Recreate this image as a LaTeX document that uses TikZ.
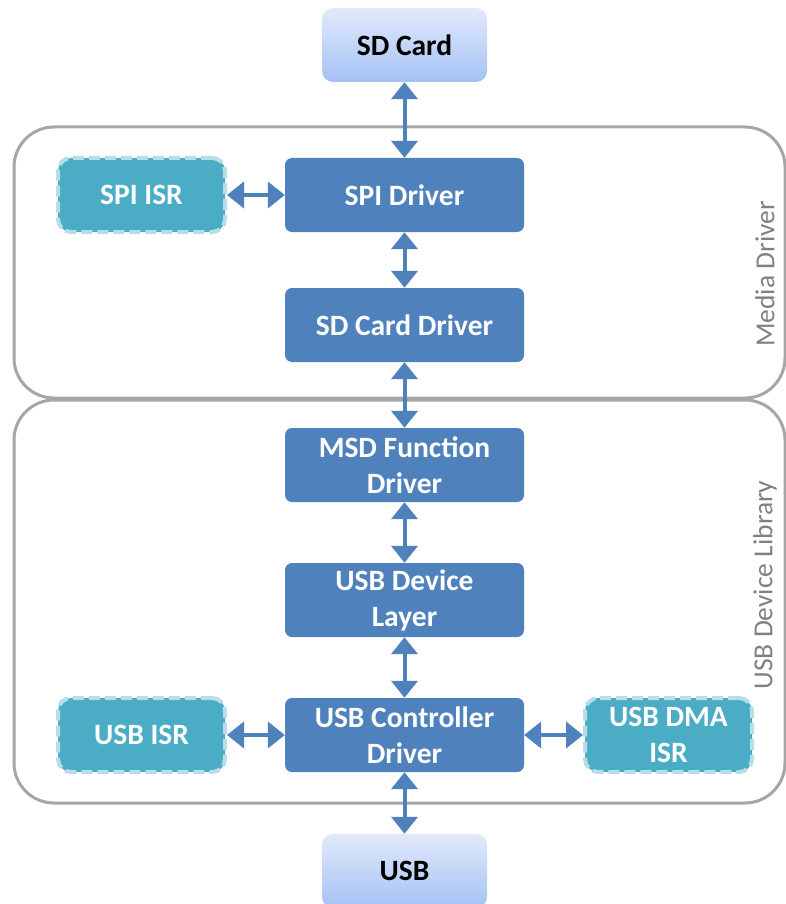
\documentclass[tikz,border=0pt]{standalone}
\usepackage{fontspec}
\setmainfont{Carlito}
\usetikzlibrary{arrows.meta}
\definecolor{blkblue}{HTML}{4F81BD}
\definecolor{isrteal}{HTML}{4BACC6}
\definecolor{isrrim}{HTML}{B7DEE8}
\definecolor{exttop}{HTML}{E1EAFB}
\definecolor{extbot}{HTML}{A4C1F5}
\definecolor{grpgray}{HTML}{A6A6A6}
\definecolor{namegray}{HTML}{808080}
\tikzset{
  blk/.style={fill=blkblue, rounded corners=7pt, minimum width=239pt, minimum height=74pt,
    text=white, align=center, font=\bfseries\fontsize{29.5}{36}\selectfont},
  isr/.style={fill=isrteal, draw=isrrim, line width=4pt, dash pattern=on 11pt off 5pt,
    rounded corners=13pt, minimum width=167pt, minimum height=74pt,
    text=white, align=center, font=\bfseries\fontsize{29.5}{36}\selectfont},
  ext/.style={top color=exttop, bottom color=extbot, rounded corners=11pt,
    minimum width=165pt, minimum height=74pt, font=\bfseries\fontsize{29.5}{36}\selectfont},
  lnk/.style={{Triangle[width=26pt,length=17pt]}-{Triangle[width=26pt,length=17pt]},
    line width=4pt, draw=blkblue},
  grp/.style={draw=grpgray, line width=3pt, rounded corners=40pt},
  grpname/.style={rotate=90, text=namegray, font=\fontsize{27.5}{30}\selectfont}
}

\begin{document}
\begin{tikzpicture}[x=1pt,y=-1pt]
\useasboundingbox (0,0) rectangle (786,904);
% groups
\draw[grp] (14,127) rectangle (785,398);
\draw[grp] (14,400) rectangle (785,803);
\node[grpname] (medianame) at (765,274) {Media Driver};
\node[grpname] (usblibname) at (765,585) {USB Device Library};
% blocks
\node[ext] (sdcard) at (404.5,45) {SD Card};
\node[blk] (spidrv) at (404.5,195) {SPI Driver};
\node[isr] (spiisr) at (141.5,195) {SPI ISR};
\node[blk] (sddrv) at (404.5,325) {SD Card Driver};
\node[blk] (msd) at (404.5,465) {MSD Function\\Driver};
\node[blk] (devlayer) at (404.5,600) {USB Device\\Layer};
\node[blk] (ctrl) at (404.5,735) {USB Controller\\Driver};
\node[isr] (usbisr) at (141.5,735) {USB ISR};
\node[isr] (dmaisr) at (668.5,735) {USB DMA\\ISR};
\node[ext] (usb) at (404.5,871) {USB};
% links
\draw[lnk] (sdcard.south) -- (spidrv.north);
\draw[lnk] (spiisr.east) -- (spidrv.west);
\draw[lnk] (spidrv.south) -- (sddrv.north);
\draw[lnk] (sddrv.south) -- (msd.north);
\draw[lnk] (msd.south) -- (devlayer.north);
\draw[lnk] (devlayer.south) -- (ctrl.north);
\draw[lnk] (usbisr.east) -- (ctrl.west);
\draw[lnk] (ctrl.east) -- (dmaisr.west);
\draw[lnk] (ctrl.south) -- (usb.north);
\end{tikzpicture}
\end{document}
